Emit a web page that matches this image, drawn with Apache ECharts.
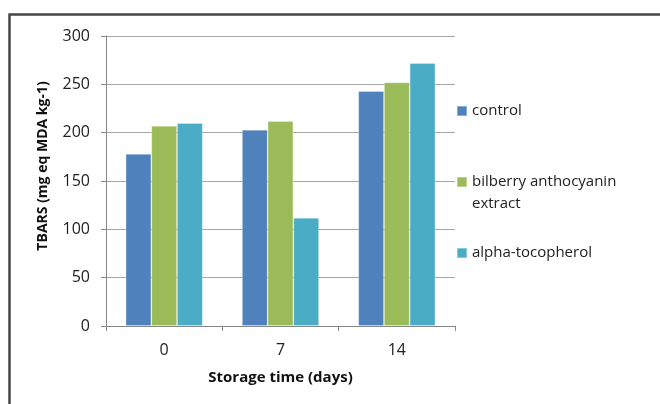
<!DOCTYPE html>
<html>
<head>
<meta charset="utf-8">
<script src="https://cdn.jsdelivr.net/npm/echarts@6/dist/echarts.min.js"></script>
<style>
html,body{margin:0;padding:0;background:#fff;}
#chart{width:660px;height:404px;}
</style>
</head>
<body>
<div id="chart"></div>
<script>
const categories = ['0', '7', '14'];
const seriesNames = ['control', 'bilberry anthocyanin extract', 'alpha-tocopherol'];
const control = [178, 203, 243];
const bilberry = [207, 212, 252];
const tocopherol = [210, 112, 272];
const yTicks = [0, 50, 100, 150, 200, 250, 300];
const colors = ['#4F81BD', '#9BBB59', '#4BACC6'];
const xTitle = 'Storage time (days)';
const yTitle = 'TBARS (mg eq MDA kg-1)';

const FONT = '"Open Sans", "Noto Sans", sans-serif';
const chart = echarts.init(document.getElementById('chart'), null, {renderer: 'canvas'});
const values = [control, bilberry, tocopherol];

const legendTops = [95, 144, 237];
const legends = seriesNames.map((n, i) => ({
  data: [n],
  orient: 'vertical',
  left: 451,
  top: legendTops[i],
  itemWidth: 10,
  itemHeight: 10,
  itemGap: 0,
  icon: 'rect',
  selectedMode: false,
  formatter: name => name.replace('bilberry anthocyanin ', '\nbilberry anthocyanin\n'),
  textStyle: {fontFamily: FONT, fontSize: 15, color: '#222', lineHeight: 22}
}));

chart.setOption({
  animation: false,
  backgroundColor: '#fff',
  grid: {left: 106, right: 205, top: 36, bottom: 78, containLabel: false},
  legend: legends,
  xAxis: {
    type: 'category',
    data: categories,
    name: xTitle,
    nameLocation: 'middle',
    nameGap: 44,
    nameTextStyle: {fontFamily: FONT, fontSize: 15, fontWeight: 'bold', color: '#111'},
    axisLine: {lineStyle: {color: '#868686', width: 1}},
    axisTick: {show: true, length: 5, lineStyle: {color: '#868686'}},
    axisLabel: {fontFamily: FONT, fontSize: 16, color: '#222', margin: 16}
  },
  yAxis: {
    type: 'value',
    min: 0, max: 300, interval: 50,
    axisLine: {show: true, lineStyle: {color: '#868686', width: 1}},
    axisTick: {show: true, length: 5, lineStyle: {color: '#868686'}},
    splitLine: {lineStyle: {color: '#a6a6a6', width: 1}},
    axisLabel: {fontFamily: FONT, fontSize: 16, color: '#222', margin: 16,
                formatter: v => yTicks.includes(v) ? String(v) : ''}
  },
  graphic: [
    {type: 'rect', shape: {x: 9.5, y: 14.5, width: 800, height: 600},
     style: {fill: 'none', stroke: '#454545', lineWidth: 2.5}, silent: true},
    {type: 'text', x: 43, y: 166, rotation: Math.PI / 2,
     style: {text: yTitle, fontFamily: FONT, fontSize: 14, fontWeight: 'bold', fill: '#111',
             align: 'center', verticalAlign: 'middle'}}
  ],
  series: seriesNames.map((n, i) => ({
    name: n,
    type: 'bar',
    data: values[i],
    barWidth: 25.7,
    barGap: '0%',
    itemStyle: {color: colors[i], borderColor: 'rgba(255,255,255,0.35)', borderWidth: 0.8}
  }))
});
</script>
</body>
</html>
